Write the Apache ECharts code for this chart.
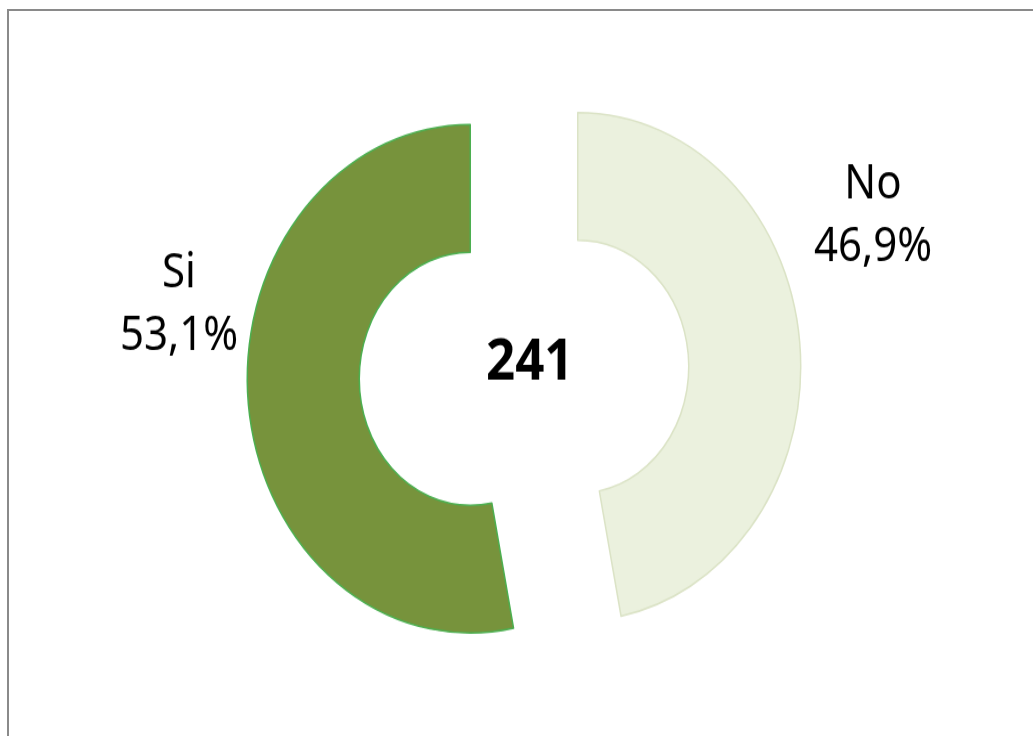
<!DOCTYPE html>
<html>
<head>
<meta charset="utf-8">
<script src="https://cdn.jsdelivr.net/npm/echarts@6/dist/echarts.min.js"></script>
<style>
html, body { margin: 0; padding: 0; background: #fff; overflow: hidden; }
#frame { position: absolute; left: 7px; top: 9px; width: 1040px; height: 740px; border-top: 2px solid #8a8a8a; border-left: 2px solid #8a8a8a; }
/* the reference is stretched vertically, so the chart is drawn then scaled */
#chart { position: absolute; left: 0; top: 0; width: 1033px; height: 646px; transform: scaleY(1.14); transform-origin: 0 0; }
</style>
</head>
<body>
<div id="frame"></div>
<div id="chart"></div>
<script>
var categories = ["No", "Si"];
var counts = [113, 128];
var colors = ["#EBF1DE", "#77933C"];
var borders = ["#dbe3c6", "#4CAF50"];

var total = 0;
for (var i = 0; i < counts.length; i++) { total += counts[i]; }

// label spots, in chart coords before the vertical stretch
var labelSpots = [[873, 190], [179, 268]];

var pieCenter = [524, 327];
var explode = 54;

// one pie per slice, each shifted out along its mid angle (exploded donut)
var series = [];
var cum = 0;
for (var i = 0; i < categories.length; i++) {
    var share = counts[i] / total;
    var mid = (cum + share / 2) * 2 * Math.PI;
    cum += share;
    var data = [];
    for (var j = 0; j < categories.length; j++) {
        data.push({
            name: categories[j],
            value: counts[j],
            itemStyle: j === i
                ? { color: colors[j], borderColor: borders[j], borderWidth: 1.5 }
                : { color: "rgba(0,0,0,0)", borderWidth: 0 },
            label: { show: j === i }
        });
    }
    series.push({
        type: "pie",
        center: [pieCenter[0] + explode * Math.sin(mid), pieCenter[1] - explode * Math.cos(mid)],
        radius: [111, 223],
        startAngle: 90,
        clockwise: true,
        silent: true,
        label: {
            position: "outside",
            fontFamily: "Noto Sans",
            fontSize: 42,
            lineHeight: 55,
            color: "#000",
            formatter: function (p) {
                return p.name + "\n" + p.percent.toFixed(1).replace(".", ",") + "%";
            }
        },
        labelLine: { show: false },
        labelLayout: function (params) {
            var s = labelSpots[params.dataIndex];
            return { x: s[0], y: s[1], align: "center", verticalAlign: "middle" };
        },
        data: data
    });
}

var chart = echarts.init(document.getElementById("chart"));
var option = {
    animation: false,
    graphic: [{
        type: "text",
        left: 529 - 43,
        top: 317 - 24,
        style: {
            text: String(total),
            font: "bold 51px 'Noto Sans'",
            fill: "#000"
        }
    }],
    series: series
};
chart.setOption(option);
</script>
</body>
</html>
